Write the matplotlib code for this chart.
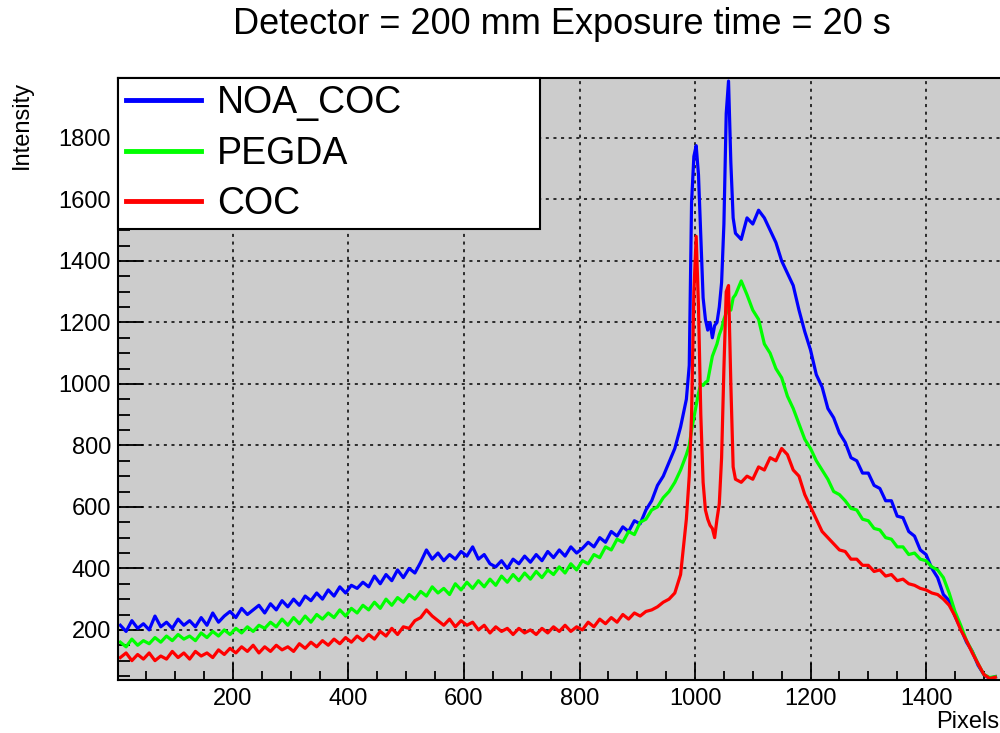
import numpy as np
import matplotlib
matplotlib.use('Agg')
import matplotlib.pyplot as plt
from matplotlib.ticker import MultipleLocator

plt.rcParams['font.family'] = ['Liberation Sans', 'DejaVu Sans']

# pixel positions (three blocks, finer around the peaks)
pix_a = np.arange(5, 990, 10)
pix_b = np.arange(990, 1071, 4)
pix_c = np.arange(1080, 1521, 10)
pixels = np.concatenate([pix_a, pix_b, pix_c])

noa_a = [215, 195, 230, 205, 220, 200, 245, 210, 225, 205,
         235, 215, 230, 210, 240, 215, 255, 225, 245, 260,
         240, 270, 250, 265, 280, 255, 285, 265, 295, 275,
         300, 280, 310, 295, 320, 300, 330, 310, 340, 320,
         345, 335, 355, 340, 375, 350, 380, 360, 395, 370,
         400, 385, 420, 460, 430, 450, 425, 445, 430, 455,
         440, 470, 430, 445, 415, 405, 425, 400, 430, 415,
         440, 420, 445, 425, 455, 435, 460, 440, 470, 450,
         465, 485, 470, 500, 485, 520, 505, 535, 520, 555,
         545, 590, 620, 670, 700, 745, 790, 860, 950]
noa_b = [1060, 1590, 1740, 1775, 1680, 1480, 1280, 1210, 1175, 1200, 1150,
         1190, 1200, 1250, 1330, 1520, 1880, 1985, 1720, 1540, 1490]
noa_c = [1470, 1540, 1520, 1565, 1540, 1500, 1460, 1400, 1360, 1320,
         1240, 1170, 1110, 1030, 990, 920, 890, 840, 810, 760,
         750, 710, 710, 670, 660, 620, 620, 570, 565, 520,
         505, 460, 445, 400, 370, 315, 295, 245, 205, 160,
         130, 85, 55, 42, 48]

pegda_a = [160, 145, 170, 150, 165, 155, 175, 160, 180, 165,
           185, 170, 180, 165, 190, 175, 195, 180, 200, 185,
           205, 190, 210, 195, 215, 205, 225, 210, 235, 215,
           240, 220, 245, 225, 250, 235, 255, 240, 265, 245,
           270, 255, 280, 265, 290, 270, 300, 280, 305, 290,
           315, 300, 325, 310, 340, 320, 335, 315, 350, 330,
           355, 335, 360, 340, 365, 345, 375, 355, 380, 360,
           385, 365, 390, 370, 395, 380, 405, 385, 415, 395,
           425, 415, 445, 435, 470, 460, 495, 485, 520, 510,
           550, 560, 590, 600, 630, 650, 680, 720, 770]
pegda_b = [800, 850, 890, 930, 970, 1000, 995, 1005, 1010, 1050, 1090,
           1110, 1130, 1160, 1180, 1210, 1230, 1250, 1240, 1280, 1290]
pegda_c = [1335, 1290, 1240, 1210, 1130, 1100, 1050, 1020, 960, 920,
           870, 820, 790, 750, 720, 690, 650, 640, 620, 595,
           590, 560, 555, 530, 525, 500, 495, 470, 470, 445,
           450, 430, 425, 405, 395, 370, 320, 260, 215, 165,
           130, 90, 55, 45, 48]

coc_a = [110, 125, 100, 120, 105, 125, 100, 115, 105, 130,
         110, 125, 105, 130, 115, 125, 110, 135, 120, 140,
         125, 145, 130, 150, 125, 145, 130, 150, 135, 145,
         130, 155, 140, 160, 145, 165, 150, 170, 155, 175,
         160, 180, 165, 185, 170, 195, 180, 205, 185, 210,
         205, 230, 240, 265, 245, 230, 215, 235, 210, 230,
         215, 225, 200, 215, 190, 210, 195, 205, 185, 205,
         190, 200, 185, 205, 190, 210, 195, 215, 195, 210,
         200, 225, 210, 235, 220, 240, 225, 250, 235, 255,
         245, 260, 265, 275, 290, 300, 320, 380, 560]
coc_b = [700, 900, 1300, 1480, 1250, 900, 680, 590, 560, 540, 530,
         500, 560, 610, 760, 1050, 1300, 1320, 1000, 730, 690]
coc_c = [680, 700, 690, 730, 720, 760, 750, 790, 770, 720,
         700, 640, 600, 560, 520, 500, 480, 460, 455, 430,
         430, 410, 410, 390, 395, 375, 380, 360, 365, 350,
         345, 335, 330, 320, 315, 300, 280, 245, 200, 165,
         125, 90, 55, 42, 46]

noa = noa_a + noa_b + noa_c
pegda = pegda_a + pegda_b + pegda_c
coc = coc_a + coc_b + coc_c

fig = plt.figure(figsize=(10, 7.33), dpi=100)
ax = fig.add_axes([0.118, 0.0723, 0.882, 0.8213])
ax.set_facecolor('#cccccc')

ax.plot(pixels, noa, color='#0000ff', lw=2.3, label='NOA_COC')
ax.plot(pixels, pegda, color='#00ff00', lw=2.3, label='PEGDA')
ax.plot(pixels, coc, color='#ff0000', lw=2.3, label='COC')

ax.set_xlim(1, 1528)
ax.set_ylim(37, 1995)
ax.xaxis.set_major_locator(MultipleLocator(200))
ax.xaxis.set_minor_locator(MultipleLocator(50))
ax.yaxis.set_major_locator(MultipleLocator(200))
ax.yaxis.set_minor_locator(MultipleLocator(50))
ax.tick_params(axis='x', which='major', direction='in', length=12, width=1.3, labelsize=17, pad=6)
ax.tick_params(axis='x', which='minor', direction='in', length=6.5, width=1.3)
ax.tick_params(axis='y', which='major', direction='in', length=18, width=1.3, labelsize=17, pad=5)
ax.tick_params(axis='y', which='minor', direction='in', length=8.5, width=1.3)
ax.grid(True, which='major', color='black', linestyle=(0, (2, 3)), linewidth=1.1)
ax.spines['right'].set_visible(False)
for s in ['left', 'bottom', 'top']:
    ax.spines[s].set_linewidth(1.5)

leg = ax.legend(loc='upper left', bbox_to_anchor=(0., 0., 0.4785, 1.), mode='expand',
                borderaxespad=0, fontsize=27, frameon=True, fancybox=False,
                edgecolor='black', framealpha=1, handlelength=2.0,
                handletextpad=0.45, labelspacing=0.38, borderpad=0.2)
leg.get_frame().set_linewidth(1.5)
for ln in leg.get_lines():
    ln.set_linewidth(3.5)

fig.text(0.5615, 0.966, 'Detector = 200 mm Exposure time = 20 s', fontsize=26,
         ha='center', va='center')
fig.text(0.022, 0.89, 'Intensity', rotation=90, fontsize=17, ha='center', va='top')
fig.text(0.999, 0.0, 'Pixels', fontsize=17, ha='right', va='bottom')

fig.savefig('out.png', dpi=100)
